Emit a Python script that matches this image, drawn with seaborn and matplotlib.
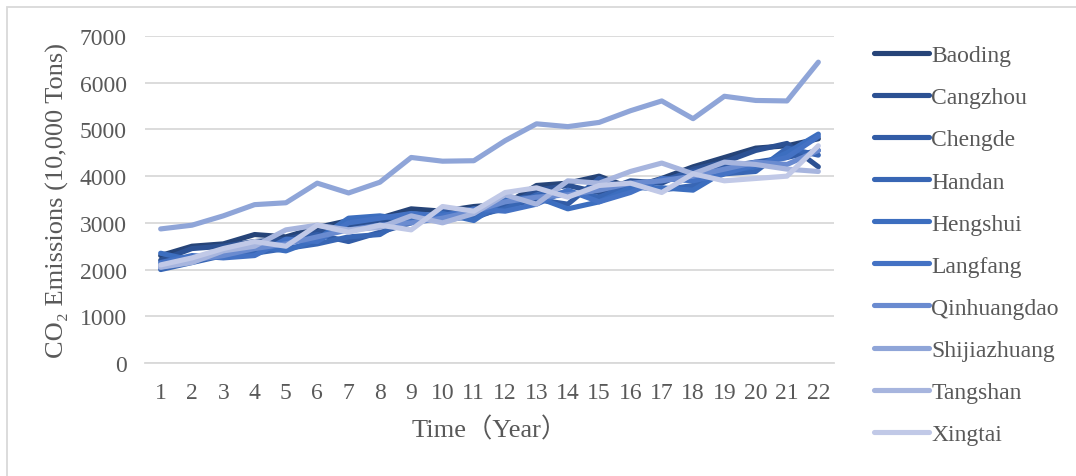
import numpy as np
import pandas as pd
import seaborn as sns
import matplotlib.pyplot as plt
from matplotlib.patches import Rectangle

# Data
years = list(range(1, 23))
cities = ['Baoding', 'Cangzhou', 'Chengde', 'Handan', 'Hengshui',
          'Langfang', 'Qinhuangdao', 'Shijiazhuang', 'Tangshan', 'Xingtai']

baoding = [2300, 2500, 2550, 2750, 2700, 2900, 3050, 3100, 3300, 3250, 3350,
           3400, 3800, 3850, 4000, 3750, 3950, 4200, 4400, 4600, 4650, 4800]
cangzhou = [2200, 2450, 2500, 2600, 2650, 2800, 2950, 3000, 3200, 3100, 3300,
            3350, 3700, 3800, 3650, 3900, 3850, 4150, 4300, 4550, 4700, 4200]
chengde = [2100, 2250, 2350, 2450, 2600, 2750, 2600, 2800, 3000, 3250, 3100,
           3350, 3500, 3400, 3950, 3700, 3900, 4100, 4200, 4300, 4400, 4550]
handan = [2000, 2150, 2300, 2350, 2450, 2550, 2700, 2750, 3150, 3050, 3150,
          3300, 3600, 3650, 3550, 3800, 3700, 3800, 4050, 4100, 4600, 4450]
hengshui = [2350, 2200, 2400, 2500, 2400, 2650, 3100, 3150, 3050, 3200, 3050,
            3500, 3550, 3300, 3450, 3750, 3750, 3700, 4100, 4200, 4500, 4900]
langfang = [2150, 2300, 2250, 2300, 2650, 2600, 3000, 3100, 3200, 3150, 3300,
            3250, 3400, 3700, 3450, 3650, 3950, 3900, 4050, 4250, 4400, 4850]
qinhuangdao = [2050, 2200, 2300, 2450, 2550, 2700, 2850, 2950, 3000, 3100, 3250,
               3450, 3550, 3600, 3700, 3850, 3900, 4000, 4150, 4300, 4250, 4550]
shijiazhuang = [2870, 2950, 3150, 3390, 3430, 3850, 3640, 3870, 4400, 4320, 4330,
                4760, 5120, 5060, 5150, 5400, 5610, 5230, 5710, 5620, 5610, 6440]
tangshan = [2050, 2150, 2400, 2500, 2850, 2950, 2850, 2900, 3150, 3000, 3200,
            3600, 3400, 3900, 3850, 4100, 4280, 4050, 4300, 4250, 4150, 4100]
xingtai = [2100, 2250, 2450, 2600, 2500, 2950, 2800, 2950, 2850, 3350, 3250,
           3650, 3750, 3550, 3800, 3850, 3650, 4050, 3900, 3950, 4000, 4650]

series = [baoding, cangzhou, chengde, handan, hengshui,
          langfang, qinhuangdao, shijiazhuang, tangshan, xingtai]
colors = ['#264478', '#2c5193', '#325ca6', '#3866b4', '#3c6ebf',
          '#4472c4', '#6a8bd0', '#8fa5d8', '#a7b5de', '#c1c9e7']

df = pd.DataFrame({
    'Year': np.tile(years, len(cities)),
    'City': np.repeat(cities, len(years)),
    'Emission': np.concatenate(series),
})

sns.set_theme(style='white')
plt.rcParams['font.family'] = ['Liberation Serif', 'Noto Sans CJK SC', 'DejaVu Serif']
text_color = '#595959'

fig = plt.figure(figsize=(10.76, 4.77), dpi=100)
ax = fig.add_axes([145 / 1076, 1 - 364 / 477, 689 / 1076, 327 / 477])

sns.lineplot(data=df, x='Year', y='Emission', hue='City', hue_order=cities,
             palette=colors, linewidth=3.7, ax=ax, legend=True)

ax.set_xlim(0.5, 22.5)
ax.set_ylim(0, 7000)
ax.set_xticks(years)
ax.set_yticks(range(0, 7001, 1000))
ax.tick_params(axis='both', length=0, labelsize=17, colors=text_color)
ax.tick_params(axis='x', pad=14)
ax.tick_params(axis='y', pad=13)
ax.grid(axis='y', color='#d9d9d9', linewidth=1.3)
ax.set_axisbelow(True)
for side in ['left', 'right', 'top']:
    ax.spines[side].set_visible(False)
ax.spines['bottom'].set_color('#d9d9d9')
ax.spines['bottom'].set_linewidth(1.3)

ax.set_xlabel('Time（Year）', fontsize=19, color=text_color, labelpad=9)
ax.set_ylabel('CO₂ Emissions (10,000 Tons)', fontsize=19, color=text_color, labelpad=8)

handles, labels = ax.get_legend_handles_labels()
ax.get_legend().remove()
leg = fig.legend(handles, labels, loc='upper left',
                 bbox_to_anchor=(862 / 1076, 1 - 34 / 477),
                 frameon=False, fontsize=17, handlelength=2.33,
                 handletextpad=0.1, labelspacing=0.87, borderpad=0)
for t in leg.get_texts():
    t.set_color(text_color)
for line in leg.get_lines():
    line.set_linewidth(3.7)
    line.set_solid_capstyle('round')

# Light frame around the chart area
fig.patches.append(Rectangle((7 / 1076, -0.1), 1.2, 1.1 - 8 / 477,
                             transform=fig.transFigure, fill=False,
                             edgecolor='#d9d9d9', linewidth=1.3))

fig.savefig('out.png', dpi=100)
